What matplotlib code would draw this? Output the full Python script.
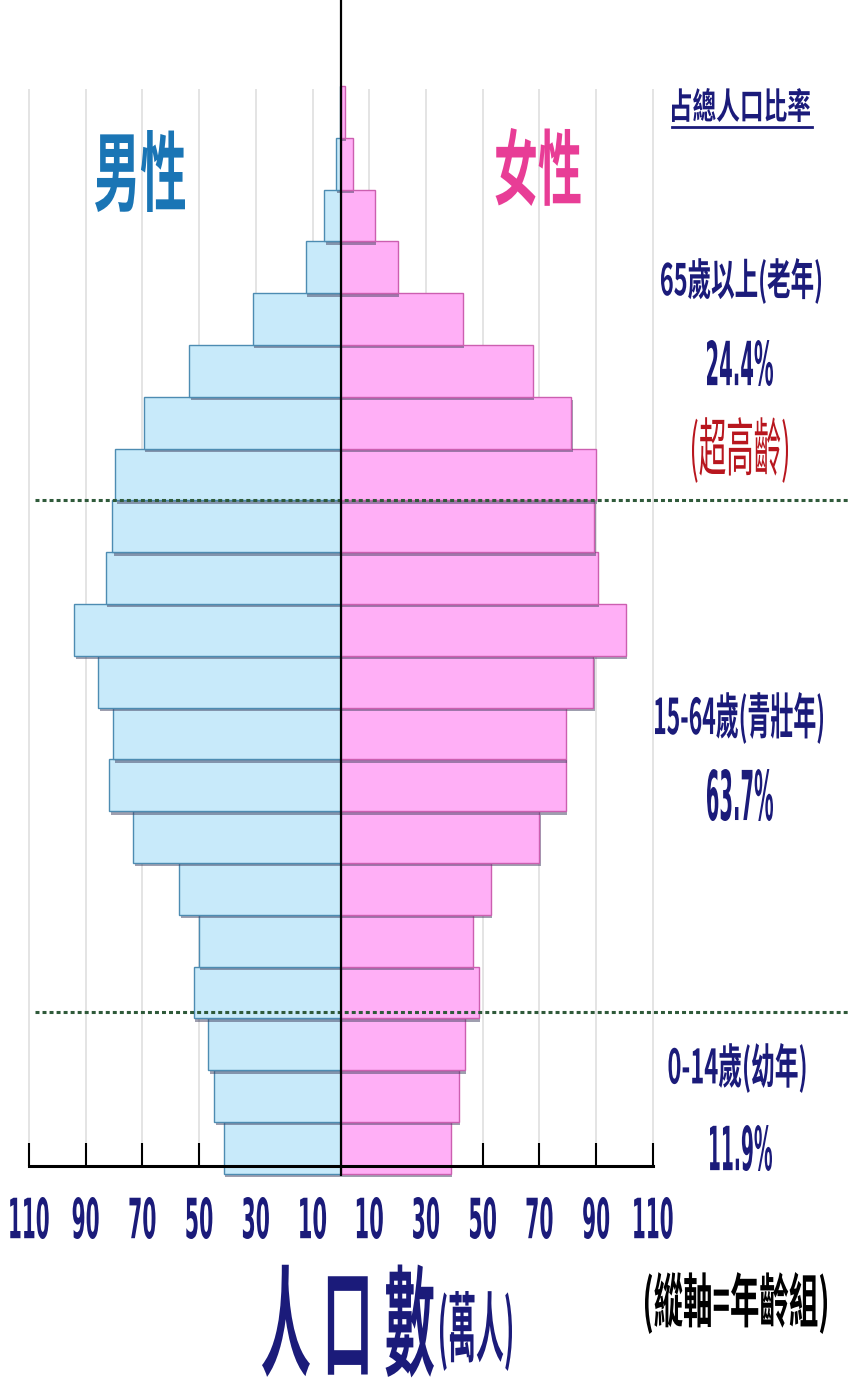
import matplotlib
matplotlib.use("Agg")
import matplotlib.pyplot as plt
import matplotlib.patheffects as pe
from matplotlib.lines import Line2D
from matplotlib.transforms import Affine2D
from matplotlib import font_manager as fm

# ---------------- data ----------------
age_groups = ["0-4", "5-9", "10-14", "15-19", "20-24", "25-29", "30-34", "35-39",
              "40-44", "45-49", "50-54", "55-59", "60-64", "65-69", "70-74", "75-79",
              "80-84", "85-89", "90-94", "95-99", "100+"]
male = [41.2, 44.7, 46.8, 51.8, 50.0, 57.0, 73.2, 81.7, 80.3, 85.6, 94.0,
        83.0, 80.6, 79.6, 69.4, 53.5, 31.0, 12.3, 5.9, 1.7, 0.3]
female = [38.7, 41.5, 43.7, 48.6, 46.5, 52.8, 70.0, 79.2, 79.2, 89.0, 100.4,
          90.5, 89.3, 89.8, 81.3, 67.6, 43.0, 20.0, 12.0, 4.2, 1.4]
tick_values = [-110, -90, -70, -50, -30, -10, 10, 30, 50, 70, 90, 110]
tick_labels = ["110", "90", "70", "50", "30", "10", "10", "30", "50", "70", "90", "110"]
group_breaks = [2.5, 12.5]  # between 10-14/15-19 and 60-64/65-69

# ---------------- fonts ----------------
def pick_narrow():
    cands = []
    for f in fm.fontManager.ttflist:
        st = str(f.stretch).lower()
        nm = f.name.lower()
        condensed = ("condensed" in st or "narrow" in nm or "condensed" in nm
                     or (isinstance(f.stretch, int) and f.stretch < 500))
        if condensed:
            w = f.weight if isinstance(f.weight, int) else (700 if "bold" in str(f.weight) else 400)
            cands.append((abs(w - 700), f.fname))
    if cands:
        cands.sort()
        return fm.FontProperties(fname=cands[0][1])
    return fm.FontProperties(family="Roboto", weight="bold")


num_fp = pick_narrow()
CJK = ["Noto Sans CJK TC", "DejaVu Sans"]

W, H = 848, 1381


class Fit(pe.AbstractPathEffect):
    """Stretch a text's glyph outline to a given ink box (pixels)."""

    def __init__(self, w=None, h=None, cx=None, cy=None):
        super().__init__()
        self.w, self.h, self.cx, self.cy = w, h, cx, cy

    def draw_path(self, renderer, gc, tpath, affine, rgbFace=None):
        bb = tpath.get_extents(affine)
        bw, bh = max(bb.width, 1e-6), max(bb.height, 1e-6)
        sx = self.w / bw if self.w else 1.0
        sy = self.h / bh if self.h else 1.0
        mx, my = (bb.x0 + bb.x1) / 2, (bb.y0 + bb.y1) / 2
        tx = self.cx if self.cx is not None else mx
        ty = self.cy if self.cy is not None else my
        t = affine + Affine2D().translate(-mx, -my).scale(sx, sy).translate(tx, ty)
        renderer.draw_path(gc, tpath, t, rgbFace)


fig = plt.figure(figsize=(W / 100, H / 100), dpi=100)
ax = fig.add_axes([0, 0, 1, 1])
ax.set_xlim(-120.2, 178.8)
ax.set_ylim(-4.5, 22.16)
ax.set_facecolor("white")

navy = "#1b1b7a"

# grid lines
ax.vlines(tick_values, -0.35, 20.45, colors="#e2e2e2", lw=1.3, zorder=0)

y = list(range(len(age_groups)))
shadow = [pe.SimplePatchShadow(offset=(1.0, -2.5), shadow_rgbFace="#404060", alpha=0.5), pe.Normal()]
mb = ax.barh(y, [-v for v in male], height=1.0, color="#c8eafa", edgecolor="#4d8cb2",
             linewidth=1.0, zorder=2)
fb = ax.barh(y, female, height=1.0, color="#ffaff6", edgecolor="#cc5fb0",
             linewidth=1.0, zorder=2)
for p in list(mb) + list(fb):
    p.set_path_effects(shadow)

# dotted age-group separators
ax.hlines([group_breaks[0] + 0.12, group_breaks[1]], -108, 178.8, colors="#2f5a3a",
          lw=2.2, linestyles=(0, (1.3, 1.0)), zorder=4)

# center line
ax.vlines(0, -0.55, 22.16, colors="black", lw=1.6, zorder=5)

# x axis
for s in ["left", "right", "top"]:
    ax.spines[s].set_visible(False)
ax.spines["bottom"].set_position(("data", -0.35))
ax.spines["bottom"].set_bounds(-110, 110)
ax.spines["bottom"].set_linewidth(2.2)
ax.spines["bottom"].set_zorder(6)
ax.set_xticks(tick_values)
ax.set_xticklabels(tick_labels)
ax.tick_params(axis="x", direction="in", length=16.5, width=1.5, pad=24, labelcolor=navy)
for lab in ax.get_xticklabels():
    fp = num_fp.copy()
    fp.set_size(16)
    fp.set_weight("bold")
    lab.set_fontproperties(fp)
    lab.set_path_effects([Fit(w=12.5 * len(lab.get_text()) + 1, h=42, cy=H - 1218)])
ax.set_yticks([])


def ft(x, y, s, w, h, size, **kw):
    t = fig.text(x / W, 1 - y / H, s, ha="center", va="center", fontsize=size, **kw)
    t.set_path_effects([Fit(w=w, h=h, cx=x, cy=H - y)])
    return t


def fnum(x, y, s, w, h):
    fp = num_fp.copy()
    fp.set_size(20)
    fp.set_weight("bold")
    t = fig.text(x / W, 1 - y / H, s, ha="center", va="center", color=navy, fontproperties=fp)
    t.set_path_effects([Fit(w=w, h=h, cx=x, cy=H - y)])


# sex labels
ft(140, 171, "男性", 90, 82, 30, color="#1a75b5", family=CJK, fontweight="bold")
ft(538, 167, "女性", 85, 78, 30, color="#e83d96", family=CJK, fontweight="bold")

# right side annotations
ft(741, 105, "占總人口比率", 138, 34, 17, color=navy, family=CJK, fontweight="bold")
fig.add_artist(Line2D([672 / W, 812 / W], [1 - 127 / H, 1 - 127 / H], color=navy, lw=2.0))
ft(741, 281, "65歲以上(老年)", 160, 46, 17, color=navy, family=CJK, fontweight="bold")
fnum(740, 363, "24.4%", 66, 46)
ft(740, 450, "(超高齡)", 96, 66, 20, color="#b8161e", family=CJK, fontweight="normal")
ft(739, 718, "15-64歲(青壯年)", 168, 52, 16.5, color=navy, family=CJK, fontweight="bold")
fnum(740, 795, "63.7%", 66, 52)
ft(737, 1068, "0-14歲(幼年)", 137, 50, 17, color=navy, family=CJK, fontweight="bold")
fnum(741, 1148, "11.9%", 62, 46)
ft(736, 1303, "(縱軸=年齡組)", 182, 62, 20, color="black", family=CJK, fontweight="bold")

# bottom axis title
ft(348, 1321, "人 口 數", 172, 113, 38, color=navy, family=CJK, fontweight="bold")
ft(476, 1331, "(萬人)", 72, 80, 20, color=navy, family=CJK, fontweight="bold")

fig.savefig("out.png", dpi=100, facecolor="white")
